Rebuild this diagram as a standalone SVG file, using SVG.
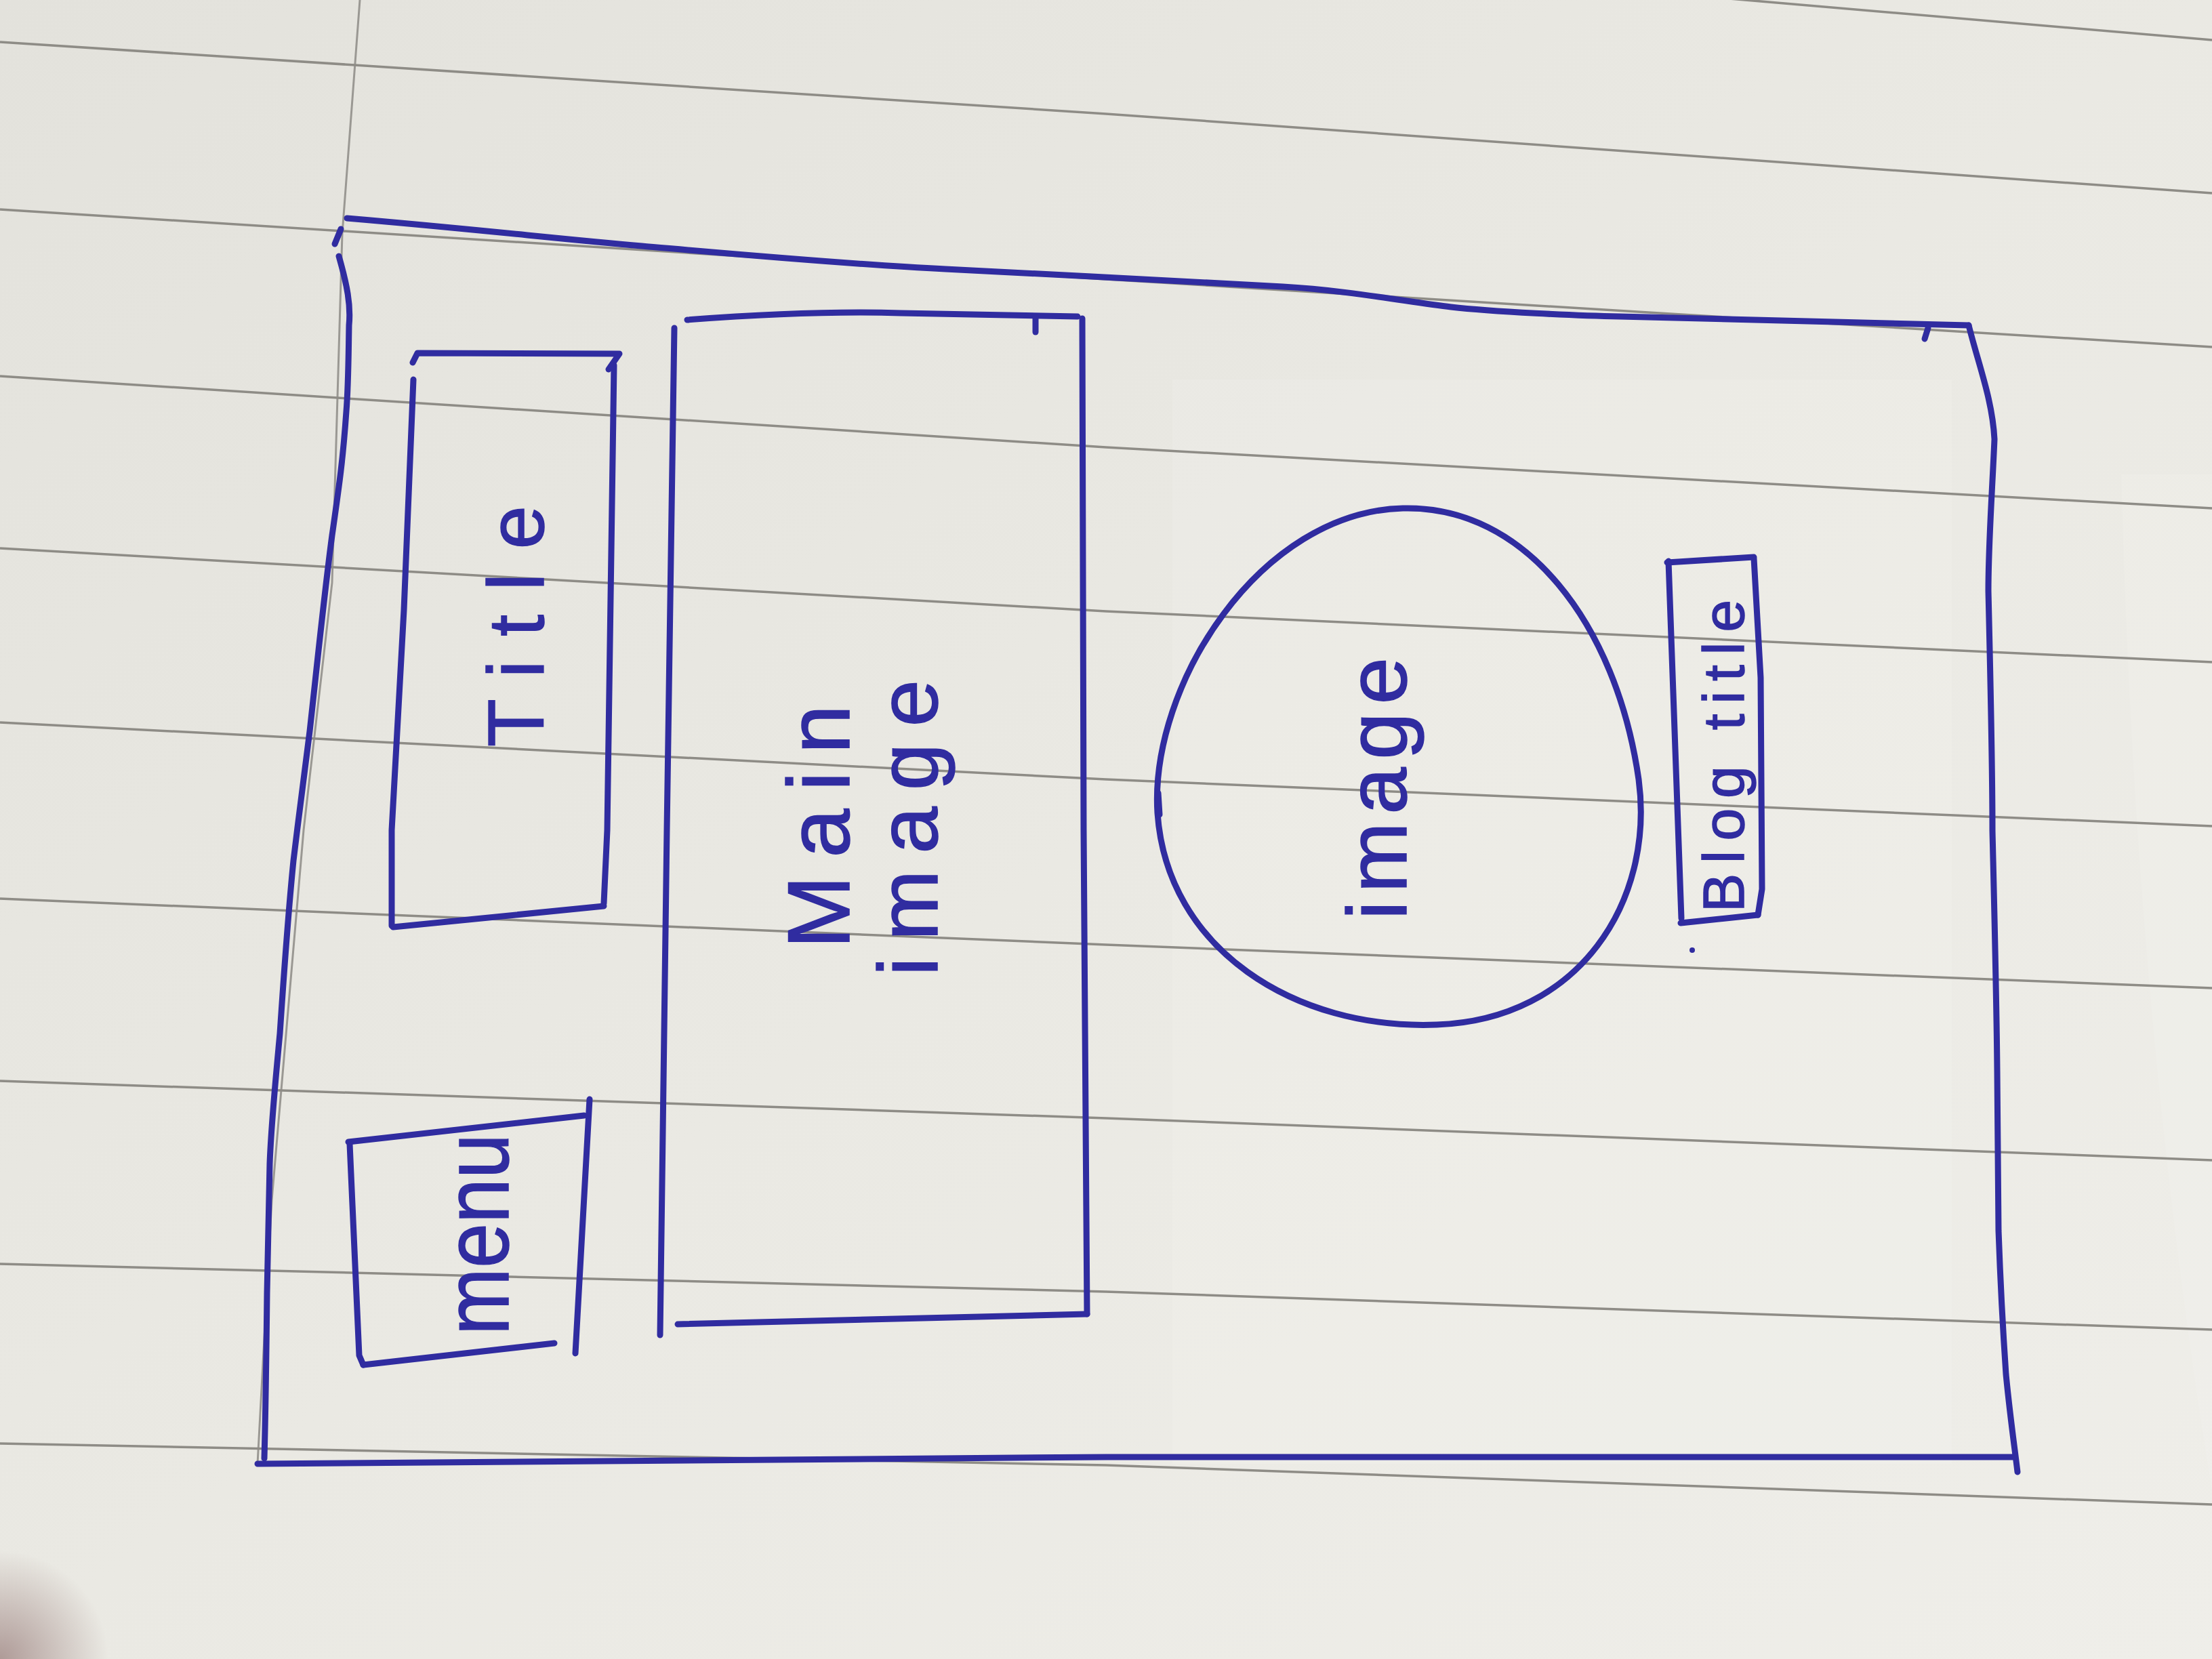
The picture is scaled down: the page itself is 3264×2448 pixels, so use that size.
<svg xmlns="http://www.w3.org/2000/svg" width="3264" height="2448" viewBox="0 0 3264 2448">
  <defs>
    <style>
      .ink { fill: none; stroke: #302ca0; stroke-width: 9; stroke-linecap: round; stroke-linejoin: round; }
      .rule { fill: none; stroke: #8e8c86; stroke-width: 3.5; }
      .margin { fill: none; stroke: #9a9893; stroke-width: 3; }
      .label { font-family: "Liberation Sans", Arial, sans-serif; fill: #302ca0; stroke: #302ca0; stroke-width: 1.5; }
    </style>
    <linearGradient id="paperShade" x1="0" y1="0" x2="1" y2="1">
      <stop offset="0" stop-color="#e3e2dc"/>
      <stop offset="0.5" stop-color="#eae9e3"/>
      <stop offset="1" stop-color="#efeee9"/>
    </linearGradient>
    <radialGradient id="cornerShadow" cx="0" cy="2448" r="160" gradientUnits="userSpaceOnUse">
      <stop offset="0" stop-color="#a8928f" stop-opacity="0.9"/>
      <stop offset="1" stop-color="#a8928f" stop-opacity="0"/>
    </radialGradient>
  </defs>

  <!-- ruled notebook paper -->
  <g id="paper">
    <rect x="0" y="0" width="3264" height="2448" fill="url(#paperShade)"/>
    <rect x="1730" y="560" width="1150" height="1600" fill="#ffffff" opacity="0.10"/>
    <path d="M3130,700 Q3150,1500 3264,2200 L3264,700 Z" fill="#ffffff" opacity="0.10"/>
    <rect x="0" y="2288" width="160" height="160" fill="url(#cornerShadow)"/>
    <polyline class="margin" points="531,0 505,345 490,860 448,1225 401,1771 380,2160"/>
    <polyline class="rule" points="2400,-15 3264,59"/>
    <polyline class="rule" points="0,62 1632,168 3264,285"/>
    <polyline class="rule" points="0,309 1632,412 3264,512"/>
    <polyline class="rule" points="0,555 1632,660 3264,750"/>
    <polyline class="rule" points="0,809 1632,902 3264,977"/>
    <polyline class="rule" points="0,1066 1632,1150 3264,1219"/>
    <polyline class="rule" points="0,1326 1632,1394 3264,1458"/>
    <polyline class="rule" points="0,1595 1632,1650 3264,1712"/>
    <polyline class="rule" points="0,1865 1632,1906 3264,1962"/>
    <polyline class="rule" points="0,2130 1632,2162 3264,2220"/>
  </g>

  <!-- page outline -->
  <g id="page-frame">
    <path class="ink" d="M512,322 C700,338 820,352 947,363 S1250,390 1395,397 S1800,418 1893,423 S2080,446 2141,453 S2330,466 2390,467 L2905,480"/>
    <path class="ink" d="M2840,500 L2845,484"/>
    <path class="ink" d="M503,338 L494,360"/>
    <path class="ink" d="M500,378 C512,420 518,450 515,480 C514,540 514,570 511,607 C506,680 500,720 490,790 C478,880 468,980 457,1079 C446,1170 440,1210 433,1270 C424,1360 418,1450 413,1525 C406,1600 400,1660 398,1717 C396,1800 395,1860 394,1908 C393,2000 392,2080 390,2152"/>
    <path class="ink" d="M380,2160 L1633,2150 L2970,2150"/>
    <path class="ink" d="M2905,480 C2920,540 2940,590 2943,648 C2940,720 2934,800 2934,872 C2937,1000 2940,1120 2940,1226 C2943,1350 2946,1470 2947,1580 C2948,1680 2948,1760 2949,1816 C2952,1900 2956,1970 2960,2028 C2966,2090 2972,2130 2977,2172"/>
  </g>

  <!-- title block -->
  <g id="title-box">
    <path class="ink" d="M609,535 L616,521 L914,522 L898,545"/>
    <path class="ink" d="M610,560 L596,900 L578,1225 L578,1366"/>
    <path class="ink" d="M906,539 L896,1225 L891,1333"/>
    <path class="ink" d="M580,1368 L891,1337"/>
    <text class="label" transform="translate(802,1102) rotate(-90)" font-size="116" textLength="356" lengthAdjust="spacing">Title</text>
  </g>

  <!-- main image block -->
  <g id="main-image">
    <path class="ink" d="M995,484 L984,1225 L974,1970"/>
    <path class="ink" d="M1014,472 Q1200,458 1329,462 L1590,467"/>
    <path class="ink" d="M1528,468 L1528,490"/>
    <path class="ink" d="M1597,470 L1599,1225 L1604,1939"/>
    <path class="ink" d="M1000,1954 L1604,1939"/>
    <text class="label" transform="translate(1253,1400) rotate(-90)" font-size="130" textLength="360" lengthAdjust="spacing">Main</text>
    <text class="label" transform="translate(1383,1440) rotate(-90)" font-size="125" textLength="437" lengthAdjust="spacing">image</text>
  </g>

  <!-- menu block -->
  <g id="menu">
    <path class="ink" d="M514,1685 L862,1646"/>
    <path class="ink" d="M870,1622 L849,1997"/>
    <path class="ink" d="M516,1688 L530,2000 L536,2014"/>
    <path class="ink" d="M536,2014 L818,1982"/>
    <text class="label" transform="translate(750,1970) rotate(-90)" font-size="135" textLength="297" lengthAdjust="spacingAndGlyphs">menu</text>
  </g>

  <!-- round image block -->
  <g id="image-circle">
    <path class="ink" d="M2070,750 C2250,745 2385,920 2418,1150 C2442,1330 2330,1505 2120,1512 C1910,1520 1722,1400 1708,1200 C1696,1010 1860,755 2070,750 Z"/>
    <path class="ink" d="M1709,1170 L1711,1202" stroke-width="15"/>
    <text class="label" transform="translate(2075,1357) rotate(-90)" font-size="125" textLength="387" lengthAdjust="spacing">image</text>
  </g>

  <!-- blog title block -->
  <g id="blog-title">
    <path class="ink" d="M2460,830 L2588,822"/>
    <path class="ink" d="M2462,828 L2481,1355"/>
    <path class="ink" d="M2588,824 L2598,1000 L2600,1312 L2594,1350"/>
    <path class="ink" d="M2480,1362 L2594,1350"/>
    <circle cx="2497" cy="1402" r="4" fill="#302ca0"/>
    <text class="label" transform="translate(2573,1346) rotate(-90)" font-size="86" textLength="461" lengthAdjust="spacing">Blog title</text>
  </g>
</svg>
